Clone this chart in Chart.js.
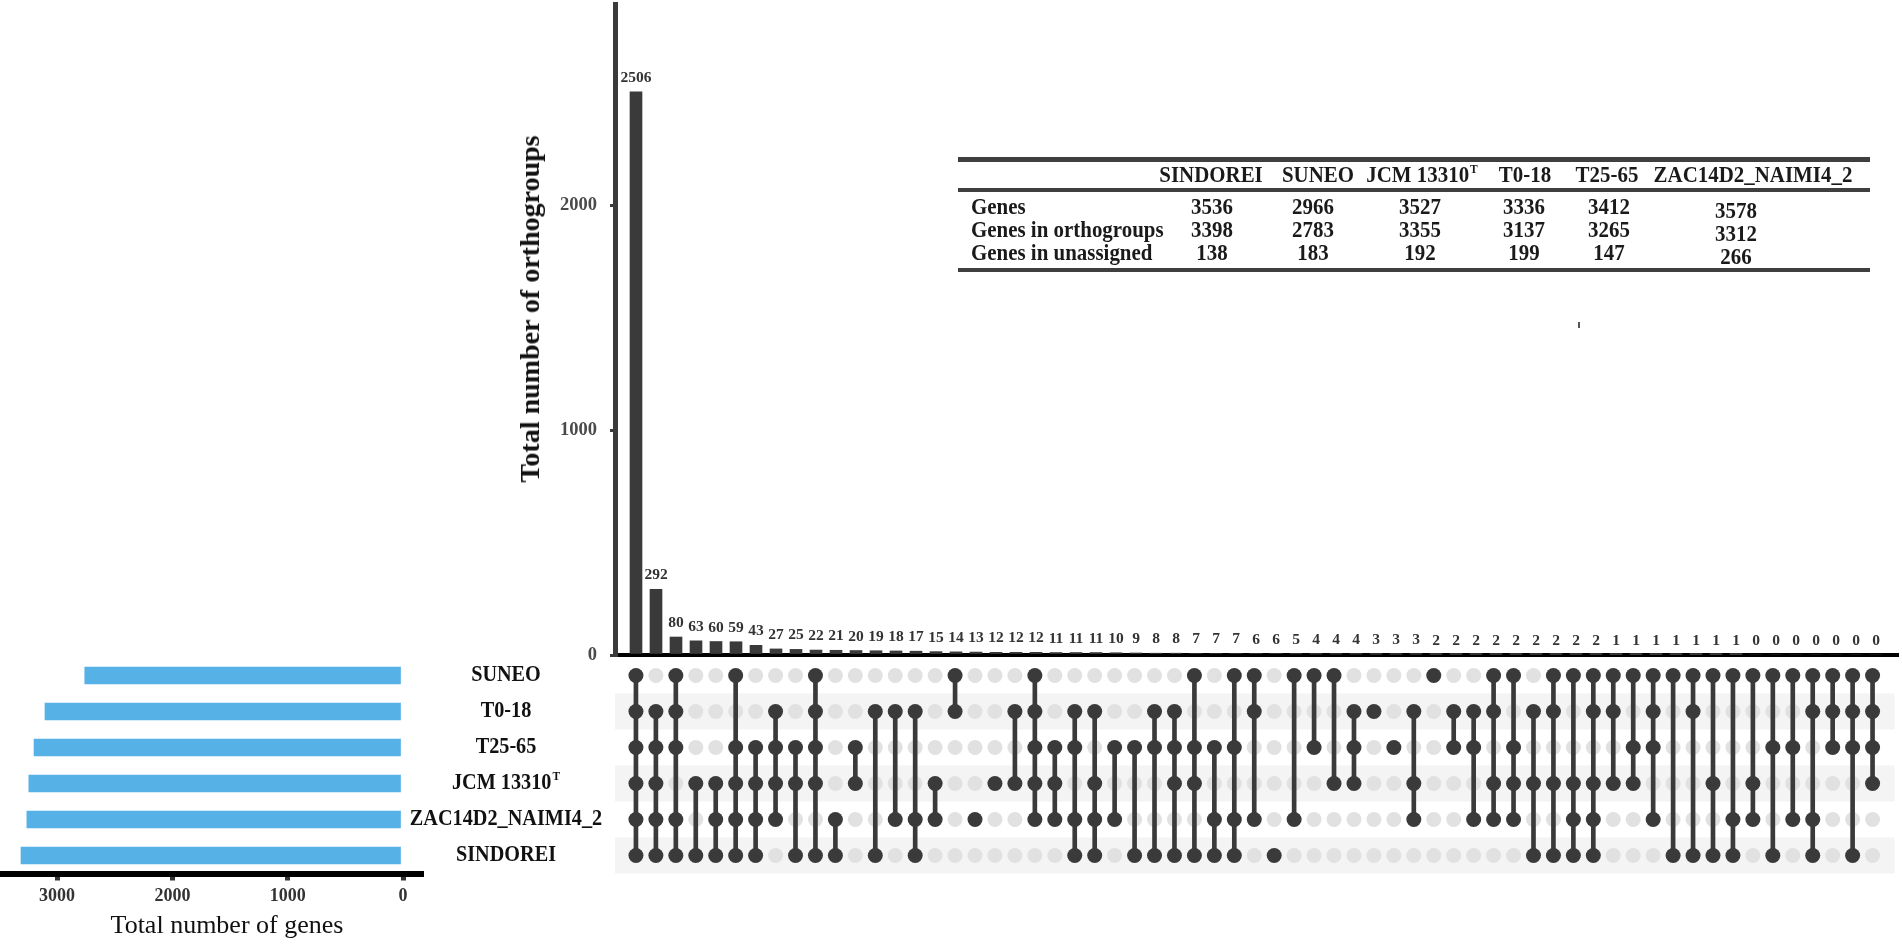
<!DOCTYPE html>
<html><head><meta charset="utf-8">
<script src="https://cdn.jsdelivr.net/npm/chart.js@4.4.1/dist/chart.umd.min.js"></script>
<style>
html,body{margin:0;padding:0;background:#fff;width:1902px;height:946px;overflow:hidden;}
#wrap{position:relative;width:1902px;height:946px;}
canvas{position:absolute;}
.t{position:absolute;font-family:'Liberation Serif','Times New Roman',serif;line-height:1;white-space:nowrap;color:#1a1a1a;}
.b{font-weight:bold;}
.c{transform:translate(-50%,-50%) scaleX(0.93);}
.l{transform:translate(0,-50%) scaleX(0.93);transform-origin:0 50%;}
.rule{position:absolute;background:#3f3f3f;}
sup{font-size:55%;vertical-align:0;position:relative;top:-0.7em;margin-left:1px;}
</style></head>
<body><div id="wrap">
<canvas id="top" width="1902" height="680" style="left:0;top:0"></canvas>
<canvas id="matrix" width="1902" height="250" style="left:0;top:640px"></canvas>
<canvas id="sets" width="620" height="306" style="left:0;top:640px"></canvas>
<div class="t b" style="font-size:28px;left:530px;top:309px;transform:translate(-50%,-50%) rotate(-90deg);color:#111">Total number of orthogroups</div>
<div class="t" style="font-size:26px;left:227px;top:925px;transform:translate(-50%,-50%);color:#111">Total number of genes</div>
<div style="position:absolute;left:1578px;top:322px;width:2px;height:6px;background:#555"></div>
<div id="table"></div>
</div>
<script>
// ---------- data ----------
const setNames = ["SUNEO","T0-18","T25-65","JCM 13310","ZAC14D2_NAIMI4_2","SINDOREI"];
const setSuperscripts = ["","","","T","",""];
const setSizes = [2760, 3105, 3200, 3245, 3262, 3313];
const setSizeTicks = [0, 1000, 2000, 3000];

const intersectionCounts = [2506,292,80,63,60,59,43,27,25,22,21,20,19,18,17,15,14,13,12,12,12,11,11,11,10,9,8,8,7,7,7,6,6,5,4,4,4,3,3,3,2,2,2,2,2,2,2,2,2,1,1,1,1,1,1,1,0,0,0,0,0,0,0];
const intersectionTicks = [0, 1000, 2000];

// set indices (rows of matrix, 0 = SUNEO ... 5 = SINDOREI) in each intersection
const memberships = [
 [0,1,2,3,4,5],[1,2,3,4,5],[0,1,2,4,5],[3,5],[3,4,5],[0,2,3,4,5],[2,3,4,5],[1,2,3,4],[2,3,5],[0,1,2,3,5],
 [4,5],[2,3],[1,5],[1,4],[1,4,5],[3,4],[0,1],[4],[3],[1,3],
 [0,1,2,3,4],[2,3,4],[1,2,4,5],[1,3,4,5],[2,4],[2,5],[1,2,5],[1,2,3,5],[0,2,3,5],[2,4,5],
 [0,2,4,5],[0,1,4],[5],[0,4],[0,2],[0,3],[1,2,3],[1],[2],[1,3,4],
 [0],[1,2],[1,2,4],[0,1,3,4],[0,2,3,4],[1,3,5],[0,1,3,5],[0,3,4,5],[0,1,3,4,5],[0,1,3],
 [0,2,3],[0,1,2,4],[0,5],[0,1,5],[0,3,5],[0,4,5],[0,3,4],[0,2,5],[0,2,4],[0,1,4,5],
 [0,1,2],[0,1,2,5],[0,1,2,3]
];

const tableColumns = ["SINDOREI","SUNEO","JCM 13310","T0-18","T25-65","ZAC14D2_NAIMI4_2"];
const tableColumnSup = ["","","T","","",""];
const tableRowLabels = ["Genes","Genes in orthogroups","Genes in unassigned"];
const genes = [3536,2966,3527,3336,3412,3578];
const genesInOrthogroups = [3398,2783,3355,3137,3265,3312];
const genesUnassigned = [138,183,192,199,147,266];

// ---------- layout / style ----------
const DARK = '#3a3a3a';
const SERIF = '"Liberation Serif","Times New Roman",serif';
const headerX = [1211,1318,1422,1525,1607,1753];
const valueX = [1212,1313,1420,1524,1609,1736];
const valueYShift = [0,0,0,0,0,4];
const rowY = [207,230,253];
const labelCenterX = 506;

// ---------- table ----------
(function(){
  const tb = document.getElementById('table');
  let html = '';
  html += '<div class="rule" style="left:958px;top:157px;width:912px;height:5px"></div>';
  html += '<div class="rule" style="left:958px;top:188px;width:912px;height:4px"></div>';
  html += '<div class="rule" style="left:958px;top:268px;width:912px;height:4px"></div>';
  tableColumns.forEach((c,i)=>{
    html += `<div class="t b c" style="font-size:22.5px;left:${headerX[i]}px;top:175px">${c}${tableColumnSup[i]?'<sup>'+tableColumnSup[i]+'</sup>':''}</div>`;
  });
  const rows=[genes,genesInOrthogroups,genesUnassigned];
  tableRowLabels.forEach((r,j)=>{
    html += `<div class="t b l" style="font-size:22.5px;left:971px;top:${rowY[j]}px">${r}</div>`;
    rows[j].forEach((v,i)=>{
      html += `<div class="t b c" style="font-size:22.5px;left:${valueX[i]}px;top:${rowY[j]+valueYShift[i]}px">${v}</div>`;
    });
  });
  tb.innerHTML = html;
})();

// ---------- plugins ----------
const countLabelPlugin = {
  id:'countLabels',
  afterDatasetsDraw(chart){
    const ctx = chart.ctx; const meta = chart.getDatasetMeta(0);
    ctx.save();
    ctx.font = 'bold 15.5px ' + SERIF; ctx.fillStyle = '#333';
    ctx.textAlign = 'center'; ctx.textBaseline = 'alphabetic';
    meta.data.forEach((bar,i)=>{ ctx.fillText(String(intersectionCounts[i]), bar.x, bar.y - 10); });
    ctx.restore();
  }
};
const stripePlugin = {
  id:'stripes',
  beforeDatasetsDraw(chart){
    const {ctx, chartArea:a, scales:{y}} = chart;
    ctx.save(); ctx.fillStyle = '#f4f4f4';
    setNames.forEach((n,i)=>{
      if(i%2===1){
        const t=y.getPixelForValue(i-0.5), b=y.getPixelForValue(i+0.5);
        ctx.fillRect(a.left, Math.min(t,b), a.right-a.left, Math.abs(b-t));
      }
    });
    ctx.restore();
  }
};
const LABEL_SX = 0.88;
const rowLabelPlugin = {
  id:'rowLabels',
  afterDraw(chart){
    const ctx = chart.ctx; const y = chart.scales.y;
    ctx.save(); ctx.fillStyle = '#111'; ctx.textBaseline = 'middle'; ctx.textAlign = 'left';
    setNames.forEach((name,i)=>{
      const py = y.getPixelForValue(i);
      ctx.font = 'bold 23px ' + SERIF;
      const w1 = ctx.measureText(name).width * LABEL_SX;
      let w2 = 0; const sup = setSuperscripts[i];
      if(sup){ ctx.font = 'bold 13px ' + SERIF; w2 = ctx.measureText(sup).width * LABEL_SX + 1; }
      const x0 = labelCenterX - (w1+w2)/2;
      ctx.save();
      ctx.translate(x0, py); ctx.scale(LABEL_SX, 1);
      ctx.font = 'bold 23px ' + SERIF;
      ctx.fillText(name, 0, 0);
      ctx.restore();
      if(sup){
        ctx.save(); ctx.translate(x0 + w1 + 1, py - 7); ctx.scale(LABEL_SX, 1);
        ctx.font = 'bold 13px ' + SERIF; ctx.fillText(sup, 0, 0); ctx.restore();
      }
    });
    ctx.restore();
  }
};
function noPad(s){ s.paddingTop = 0; s.paddingBottom = 0; s.paddingLeft = 0; s.paddingRight = 0; }

// ---------- top: intersection sizes ----------
new Chart(document.getElementById('top'), {
  type:'bar',
  data:{ datasets:[{ data: intersectionCounts.map((v,i)=>({x:i,y:v})), backgroundColor:DARK, barThickness:12 }]},
  options:{ responsive:false, animation:false, devicePixelRatio:1,
    layout:{padding:{left:0,right:4,top:4,bottom:0}},
    plugins:{legend:{display:false},tooltip:{enabled:false}},
    scales:{
      x:{type:'linear', offset:false, min:-1.05, max:63.1, afterFit(s){s.height=25; noPad(s);}, ticks:{display:false}, grid:{display:false, offset:false}, border:{display:true,color:'#000',width:4}},
      y:{type:'linear', min:0, max:2897, afterFit(s){s.width=615; noPad(s);},
         afterBuildTicks(s){ s.ticks = intersectionTicks.map(v=>({value:v})); },
         ticks:{padding:13, color:'#4a4a4a', font:{family:SERIF, weight:'bold', size:18.5}, callback:(v)=>String(v)},
         grid:{display:true, drawOnChartArea:false, drawTicks:true, tickLength:5, color:DARK, lineWidth:3},
         border:{display:true, color:DARK, width:5}}
    }},
  plugins:[countLabelPlugin]
});

// ---------- matrix ----------
const lightPts=[], darkPts=[], links=[];
memberships.forEach((m,c)=>{
  for(let r=0;r<setNames.length;r++){ (m.includes(r)?darkPts:lightPts).push({x:c,y:r}); }
  if(m.length>1) links.push({x:c, y:[Math.min(...m), Math.max(...m)]});
});
new Chart(document.getElementById('matrix'), {
  type:'scatter',
  data:{ datasets:[
    {type:'scatter', data:lightPts, pointRadius:7.5, pointHoverRadius:7.5, backgroundColor:'#e1e1e1', borderWidth:0, order:3},
    {type:'bar', data:links, backgroundColor:DARK, barThickness:4, order:2},
    {type:'scatter', data:darkPts, pointRadius:7.5, pointHoverRadius:7.5, backgroundColor:DARK, borderWidth:0, order:1}
  ]},
  options:{ responsive:false, animation:false, devicePixelRatio:1,
    layout:{padding:{left:615,right:4,top:17.5,bottom:16.5}},
    plugins:{legend:{display:false},tooltip:{enabled:false}},
    scales:{ x:{type:'linear', offset:false, min:-1.05, max:63.1, display:false, grid:{offset:false}},
             y:{type:'linear', offset:false, min:-0.5, max:5.5, reverse:true, display:false} }
  },
  plugins:[stripePlugin]
});

// ---------- left: set sizes ----------
new Chart(document.getElementById('sets'), {
  type:'bar',
  data:{ labels:setNames, datasets:[{ data:setSizes, backgroundColor:'#56b1e6', barThickness:17 }]},
  options:{ indexAxis:'y', responsive:false, animation:false, devicePixelRatio:1,
    layout:{padding:{left:3,right:199,top:17.5,bottom:0}},
    plugins:{legend:{display:false},tooltip:{enabled:false}},
    scales:{
      y:{display:false},
      x:{type:'linear', offset:false, min:-156, max:3469, reverse:true, afterFit(s){s.height=72.5; noPad(s);},
         afterBuildTicks(s){ s.ticks = setSizeTicks.map(v=>({value:v})); },
         ticks:{padding:5, color:'#333', font:{family:SERIF, weight:'bold', size:18}, callback:(v)=>String(v)},
         grid:{display:true, drawOnChartArea:false, drawTicks:true, tickLength:7, color:'#333', lineWidth:5},
         border:{display:true, color:'#000', width:6}}
    }},
  plugins:[rowLabelPlugin]
});
</script>
</body></html>
